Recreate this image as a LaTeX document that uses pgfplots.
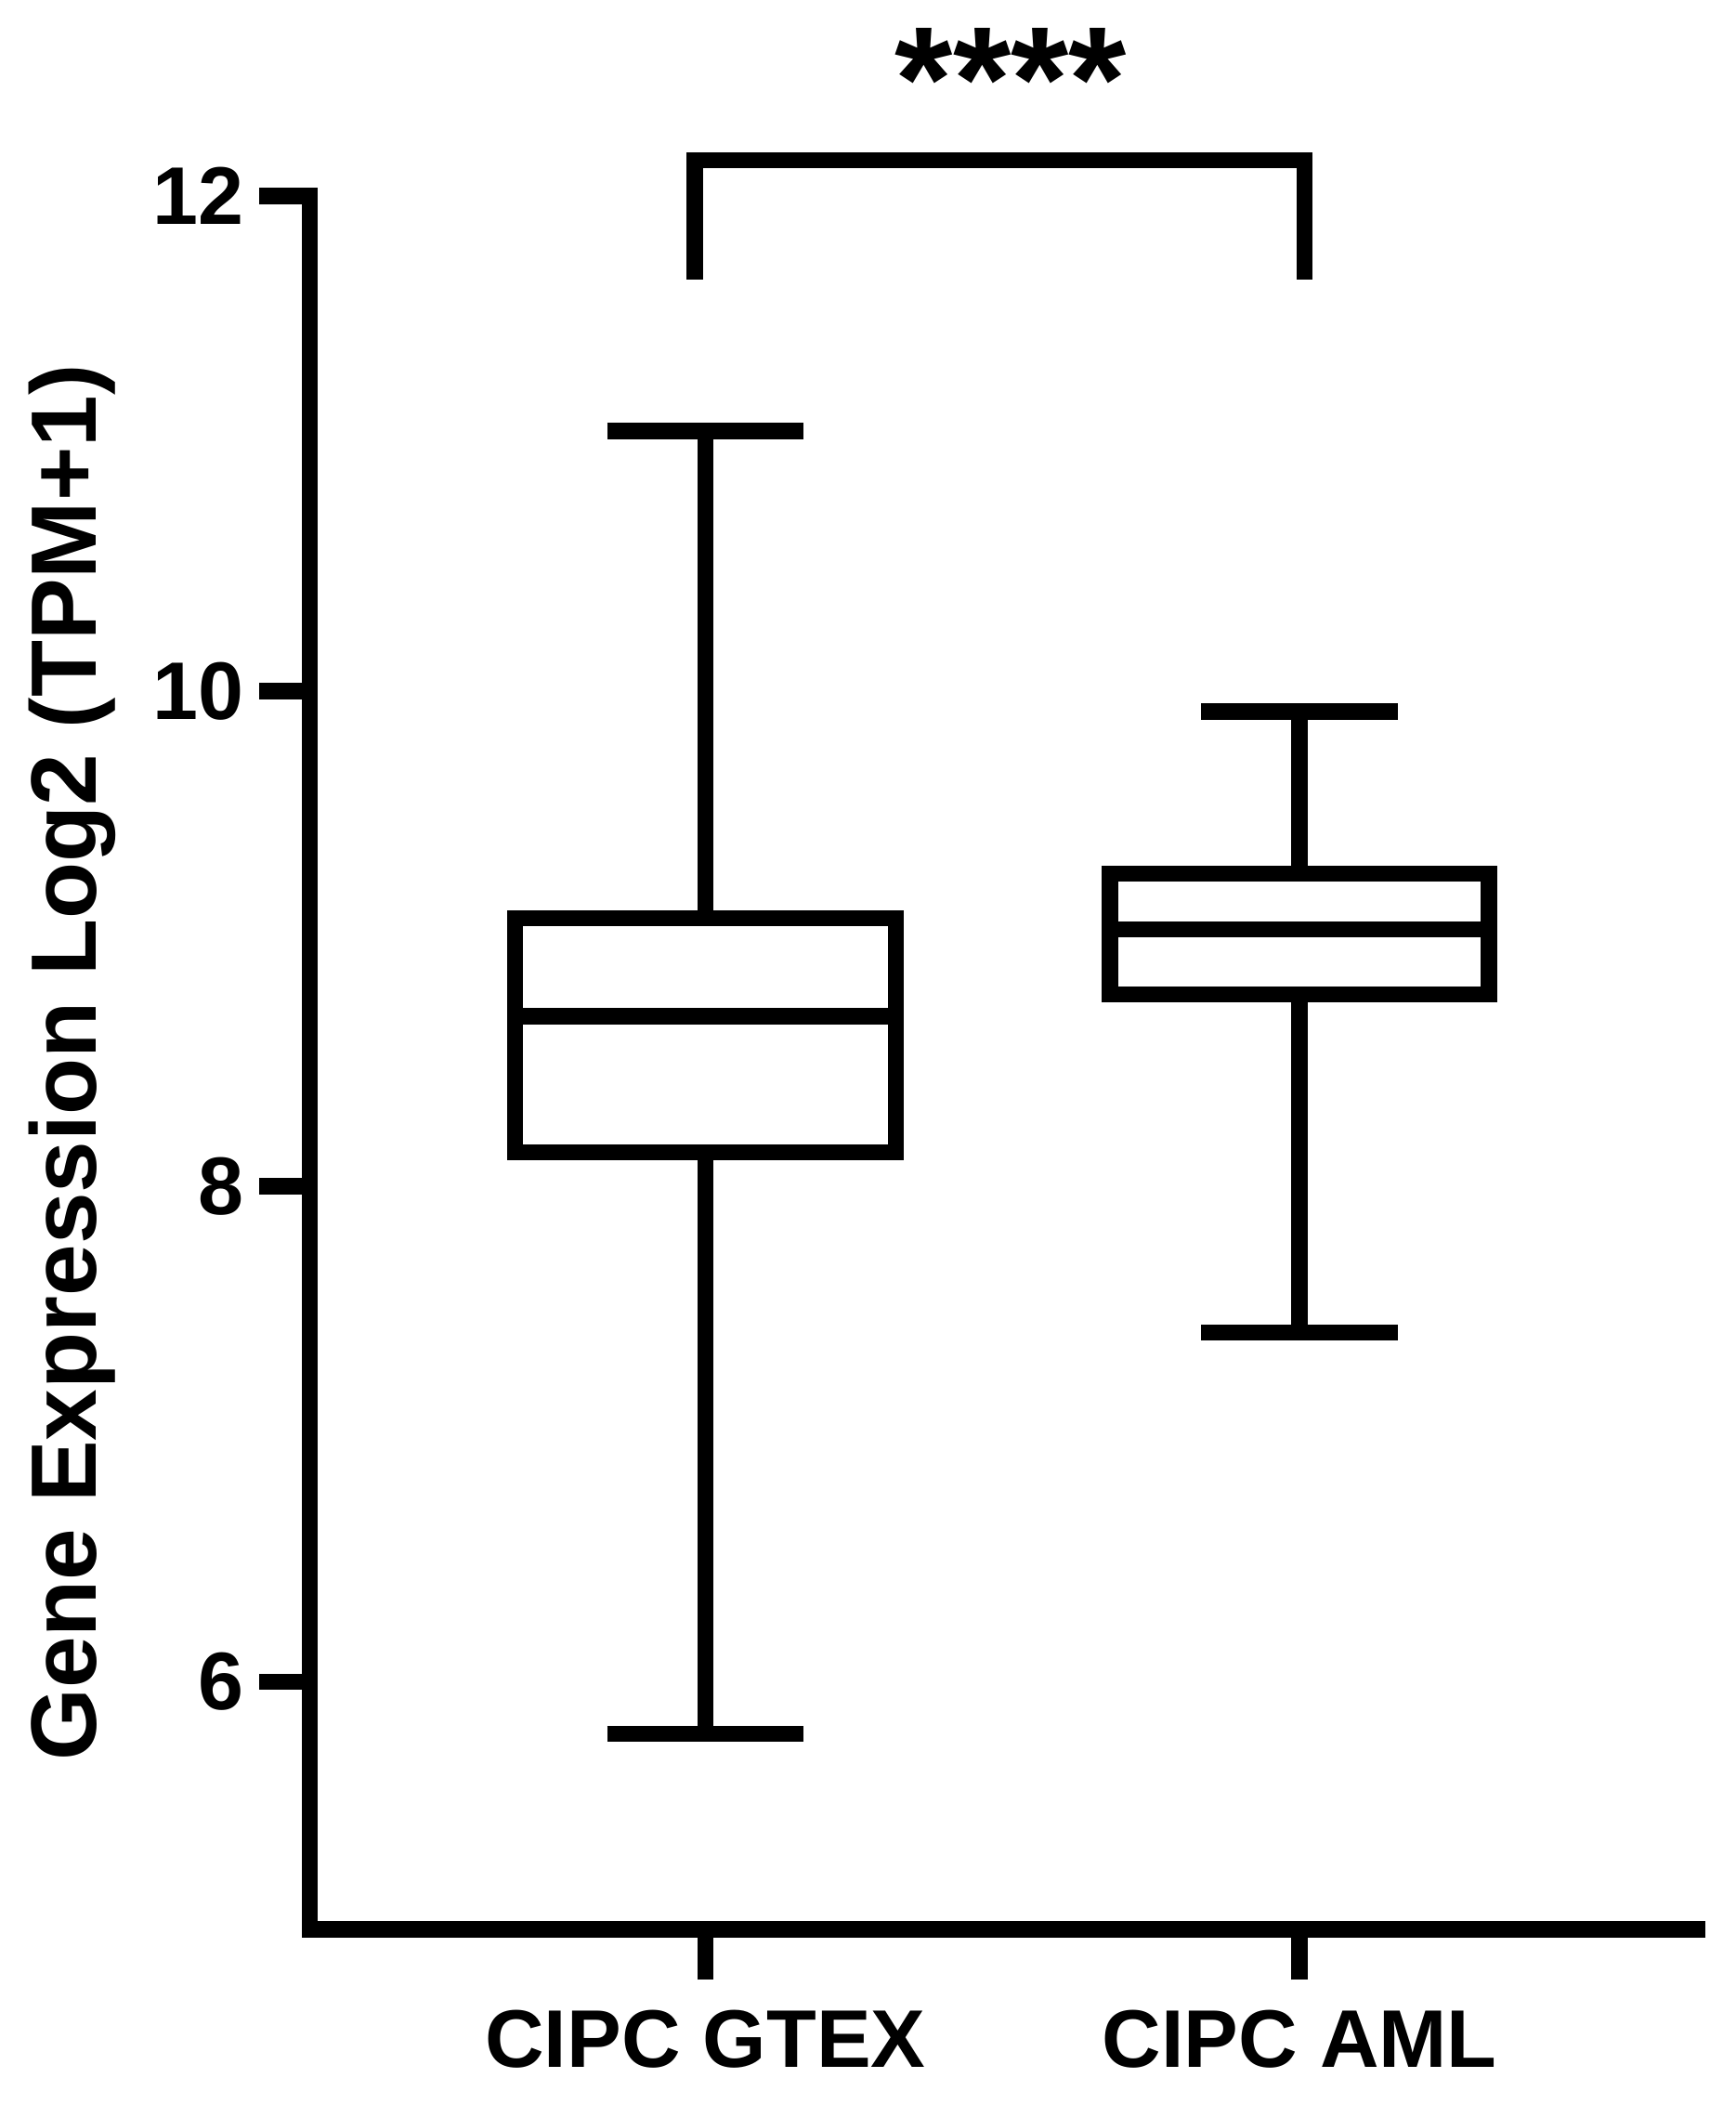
\documentclass[border=0pt]{standalone}
\usepackage{fontspec}
\setmainfont{Liberation Sans}
\usepackage{pgfplots}
\pgfplotsset{compat=1.18}
\usepgfplotslibrary{statistics}
\begin{document}
\begin{tikzpicture}
\begin{axis}[
  scale only axis, width=373.4pt, height=466.5pt,
  xmin=-0.666, xmax=1.669, ymin=5, ymax=12,
  axis lines=left,
  axis line style={-, black, line width=4.4pt, line cap=rect},
  tick align=outside, major tick length=13.6pt,
  major tick style={black, line width=4.4pt},
  xtick={0,1}, xticklabels={CIPC GTEX, CIPC AML},
  ytick={6,8,10,12},
  /pgf/number format/assume math mode=true,
  ticklabel style={font=\fontsize{22}{22}\selectfont\bfseries},
  xticklabel style={anchor=north, inner sep=0pt}, xticklabel shift=8pt,
  yticklabel style={anchor=east, inner sep=0pt}, yticklabel shift=4pt,
  ylabel={Gene Expression Log2 (TPM+1)},
  ylabel style={font=\fontsize{25}{25}\selectfont\bfseries, at={(axis description cs:-0.1537,0.5)}, anchor=base, inner sep=0pt},
  clip=false,
  boxplot/draw direction=y,
]
\addplot+[mark=none, solid, draw=black, fill=none, line width=4.4pt, line join=miter, boxplot prepared={draw position=0, lower whisker=5.79, lower quartile=8.138, median=8.687, upper quartile=9.084, upper whisker=11.05, box extend=0.641, whisker extend=0.331}] coordinates {};
\addplot+[mark=none, solid, draw=black, fill=none, line width=4.4pt, line join=miter, boxplot prepared={draw position=1, lower whisker=7.41, lower quartile=8.776, median=9.039, upper quartile=9.264, upper whisker=9.917, box extend=0.638, whisker extend=0.331}] coordinates {};
\draw[black, line width=4.4pt, line cap=butt, line join=miter] (axis cs:-0.018,11.663) -- (axis cs:-0.018,12.145) -- (axis cs:1.008,12.145) -- (axis cs:1.008,11.663);
\node[anchor=north, inner sep=0pt, font=\fontsize{40}{40}\selectfont\bfseries] at (axis cs:0.514,12.68) {****};
\coordinate (O) at (rel axis cs:0,0);
\end{axis}
\pgfresetboundingbox
\path[use as bounding box] ([shift={(-83.375pt,-47pt)}]O) rectangle ([shift={(383.625pt,519.25pt)}]O);
\end{tikzpicture}
\end{document}
